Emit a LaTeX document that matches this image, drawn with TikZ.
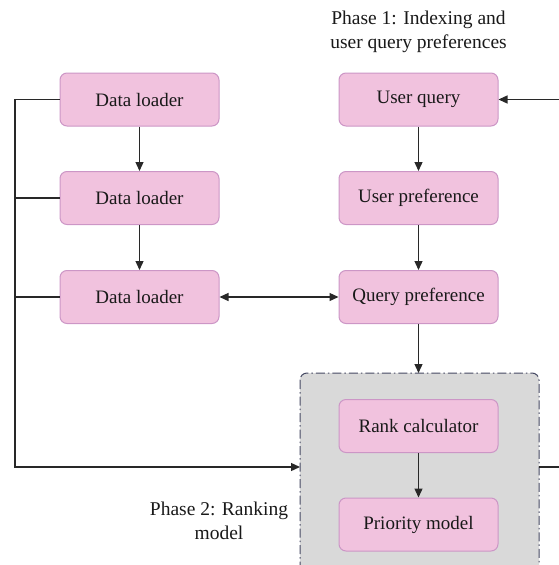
\documentclass[tikz,border=0pt]{standalone}
\usepackage{fontspec}
\setmainfont{Liberation Serif}
\usetikzlibrary{arrows.meta}
\definecolor{pinkfill}{RGB}{241,194,222}
\definecolor{pinkdraw}{RGB}{204,150,198}
\definecolor{grayfill}{RGB}{217,217,217}
\definecolor{graydraw}{RGB}{70,74,100}
\definecolor{linec}{RGB}{40,40,40}
\begin{document}
\begin{tikzpicture}[x=1pt,y=-1pt,
  box/.style={draw=pinkdraw,fill=pinkfill,line width=1pt,rounded corners=7pt,
    minimum width=159pt,minimum height=53pt,inner sep=0pt,
    font=\fontsize{19}{22}\selectfont,text=black!90},
  conn/.style={draw=linec,line width=1.3pt},
  arr/.style={conn,-{Triangle[length=9pt,width=8pt]}},
  lbl/.style={align=center,font=\fontsize{19.5}{24}\selectfont,text=black!90}]
\useasboundingbox (0,0) rectangle (559,565);
\clip (0,0) rectangle (559,565);
% gray group
\draw[fill=grayfill,draw=graydraw,line width=1pt,dash pattern=on 9pt off 3pt on 1.5pt off 3pt,rounded corners=7pt]
  (300,373) rectangle (539,600);
\coordinate (gtop) at (418.5,373);
\coordinate (gleft) at (300,467);
\coordinate (gright) at (539,467);
\node[box] (d1) at (139.5,99.5) {Data loader};
\node[box] (d2) at (139.5,198) {Data loader};
\node[box] (d3) at (139.5,297) {Data loader};
\node[box] (uq) at (418.5,99.5) {User query};
\node[box] (up) at (418.5,198) {User preference};
\node[box] (qp) at (418.5,297) {Query preference};
\node[box] (rc) at (418.5,426) {Rank calculator};
\node[box] (pm) at (418.5,524.5) {Priority model};
\node[lbl] (ph1) at (418.5,32) {Phase 1: Indexing and\\user query preferences};
\node[lbl] (ph2) at (219,521) {Phase 2: Ranking\\model};
\coordinate (lx1) at (15,99.5);
\coordinate (lx2) at (15,198);
\coordinate (lx3) at (15,297);
\coordinate (lx4) at (15,467);
\coordinate (rin) at (559,99.5);
\coordinate (rout) at (559,467);
\draw[arr] (d1) -- (d2);
\draw[arr] (d2) -- (d3);
\draw[arr] (uq) -- (up);
\draw[arr] (up) -- (qp);
\draw[arr] (qp) -- (gtop);
\draw[arr] (rc) -- (pm);
\draw[conn,{Triangle[length=9pt,width=8pt]}-{Triangle[length=9pt,width=8pt]}] (d3) -- (qp);
\draw[arr] (d1.west) -- (lx1) -- (lx4) -- (gleft);
\draw[conn] (d2.west) -- (lx2);
\draw[conn] (d3.west) -- (lx3);
\draw[arr] (rin) -- (uq.east);
\draw[conn] (gright) -- (rout);
\end{tikzpicture}
\end{document}
